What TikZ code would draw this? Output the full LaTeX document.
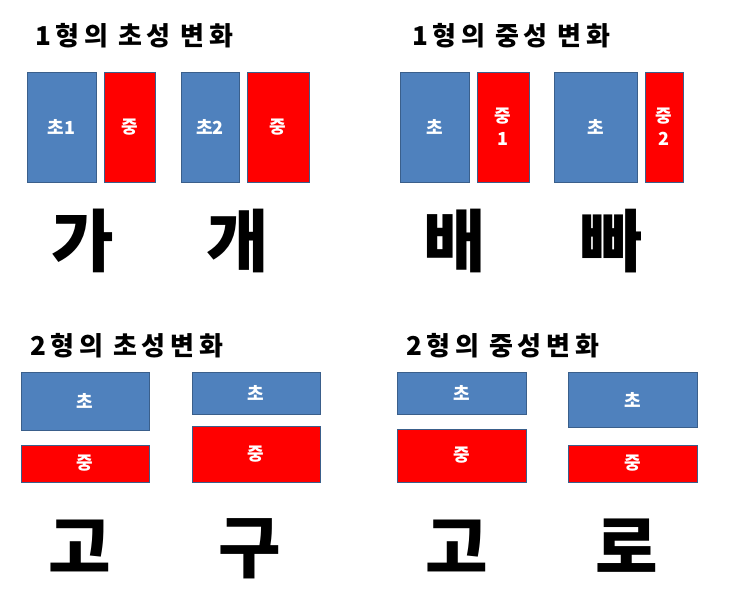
\documentclass[tikz,border=0pt]{standalone}
\usepackage{fontspec}
\setmainfont{Noto Sans CJK KR}
\newfontfamily\ttlfont{Noto Sans CJK KR Black}[LetterSpace=18]
\newfontfamily\heavykr{Noto Sans CJK KR Black}
\newcommand\ttlsetup{\ttlfont\fontsize{26}{28}\selectfont\fontdimen2\font=10pt\relax}
\definecolor{choblue}{HTML}{4F81BD}
\definecolor{jungred}{HTML}{FF0000}
\definecolor{edgeblue}{HTML}{3A5F8B}
\tikzset{
  cbox/.style={draw=edgeblue, line width=0.8pt, fill=choblue, inner sep=0pt, text=white, font=\bfseries\fontsize{18}{23}\selectfont, align=center},
  jbox/.style={cbox, fill=jungred},
  ttl/.style={anchor=base west, inner sep=0pt, font=\ttlsetup},
  big/.style={anchor=base, inner sep=0pt, font=\heavykr\fontsize{68}{70}\selectfont}
}
\begin{document}
\begin{tikzpicture}[x=1pt,y=-1pt]
\useasboundingbox (0,0) rectangle (739,607);
% top-left
\node[ttl] (t1) at (35,46) {1형의 초성 변화};
\node[cbox, minimum width=69pt, minimum height=110pt] (a1) at (61.5,127) {초1};
\node[jbox, minimum width=51pt, minimum height=110pt] (a2) at (129.5,127) {중};
\node[cbox, minimum width=58pt, minimum height=110pt] (a3) at (210,127) {초2};
\node[jbox, minimum width=62pt, minimum height=110pt] (a4) at (278,127) {중};
\node[big] (g1) at (83,266) {가};
\node[big] (g2) at (238,266) {개};
% top-right
\node[ttl] (t2) at (412,46) {1형의 중성 변화};
\node[cbox, minimum width=69pt, minimum height=110pt] (b1) at (434.5,127) {초};
\node[jbox, minimum width=52pt, minimum height=110pt] (b2) at (503,127) {중\\1};
\node[cbox, minimum width=83pt, minimum height=110pt] (b3) at (595.5,127) {초};
\node[jbox, minimum width=38pt, minimum height=110pt] (b4) at (664,127) {중\\2};
\node[big] (g3) at (455,266) {배};
\node[big] (g4) at (612,266) {빠};
% bottom-left
\node[ttl] (t3) at (30,355) {2형의 초성변화};
\node[cbox, minimum width=128pt, minimum height=58pt] (c1) at (85,401) {초};
\node[jbox, minimum width=128pt, minimum height=37pt] (c2) at (85,463.5) {중};
\node[cbox, minimum width=128pt, minimum height=42pt] (c3) at (256,393) {초};
\node[jbox, minimum width=128pt, minimum height=56pt] (c4) at (256,454) {중};
\node[big] (g5) at (80,572) {고};
\node[big] (g6) at (250,572) {구};
% bottom-right
\node[ttl] (t4) at (406,355) {2형의 중성변화};
\node[cbox, minimum width=129pt, minimum height=42pt] (d1) at (461.5,393) {초};
\node[jbox, minimum width=129pt, minimum height=53pt] (d2) at (461.5,455.5) {중};
\node[cbox, minimum width=129pt, minimum height=55pt] (d3) at (632.5,399.5) {초};
\node[jbox, minimum width=129pt, minimum height=37pt] (d4) at (632.5,463.5) {중};
\node[big] (g7) at (457,572) {고};
\node[big] (g8) at (627,572) {로};
\end{tikzpicture}
\end{document}
